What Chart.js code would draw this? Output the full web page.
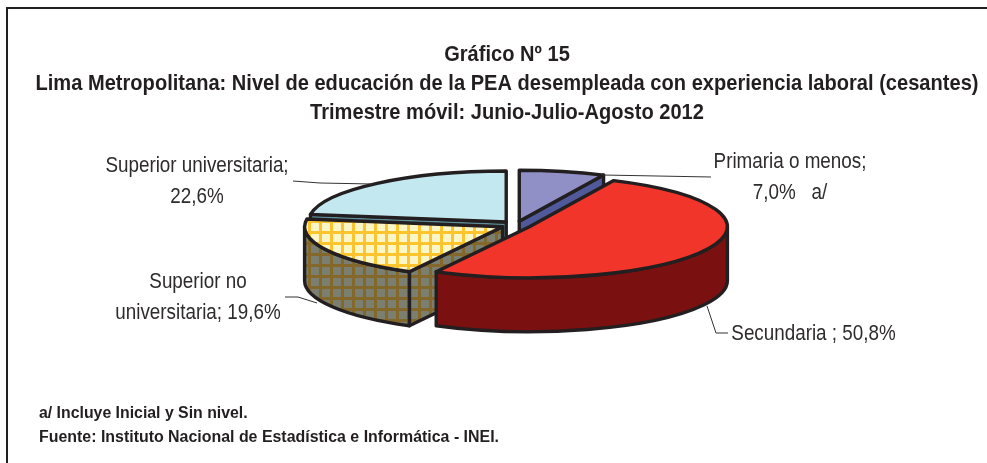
<!DOCTYPE html>
<html><head><meta charset="utf-8">
<style>html,body{margin:0;padding:0;background:#fff}#w{position:relative;width:987px;height:463px}canvas{display:block}</style>
<script src="https://cdn.jsdelivr.net/npm/chart.js@4"></script></head>
<body><div id="w"><canvas id="c" width="987" height="463"></canvas></div>
<script>
const titleLines = ["Gráfico Nº 15","Lima Metropolitana: Nivel de educación de la PEA desempleada con experiencia laboral (cesantes)","Trimestre móvil: Junio-Julio-Agosto 2012"];
const categories = ["Primaria o menos","Secundaria","Superior no universitaria","Superior universitaria"];
const values = [7.0,50.8,19.6,22.6];
const explode = [60,60,60,60];
const topColors = ["#9090c6","#f1352b",["#fbf6c8","#fdc42d"],"#c3e8f0"];
const wallColors = ["#505a9b","#7a1010",["#7a7f70","#84672a"],"#5f8f9a"];
const drawOrder = [3,0,2,1];
const footnotes = ["a/ Incluye Inicial y Sin nivel.","Fuente: Instituto Nacional de Estadística e Informática - INEI."];
const sliceTexts = [
 {lines:["Primaria o menos;","7,0%   a/"],x:790,y:[168,199]},
 {lines:["Secundaria ; 50,8%"],x:813.5,y:[340]},
 {lines:["Superior no","universitaria; 19,6%"],x:198,y:[288,319]},
 {lines:["Superior universitaria;","22,6%"],x:197,y:[172,203]}
];
const leaders = [
 [[603,175],[711,177]],
 [[707,306],[716,333],[728,333]],
 [[285,297],[298,297],[317,303]],
 [[293,181],[320,183],[372,184]]
];
const FONT='"Liberation Sans",Arial,sans-serif';
const INK='#231f20', TILT=51/198, DEPTH=54;

function hatch(c){
  if(!Array.isArray(c)) return c;
  const p=document.createElement('canvas');p.width=11;p.height=11;
  const g=p.getContext('2d');g.fillStyle=c[0];g.fillRect(0,0,11,11);
  g.fillStyle=c[1];g.fillRect(0,0,3,11);g.fillRect(0,0,11,3);
  return document.getElementById('c').getContext('2d').createPattern(p,'repeat');
}
const topFill=topColors.map(hatch), wallFill=wallColors.map(hatch);

function squeezed(ctx,t,x,y,sx){ctx.save();ctx.translate(x,y);ctx.scale(sx,1);ctx.fillText(t,0,0);ctx.restore();}

const pie3d={id:'pie3d',
 beforeDatasetsDraw(chart){
  const ctx=chart.ctx, arcs=chart.getDatasetMeta(0).data;
  ctx.save();ctx.lineJoin='round';ctx.lineWidth=3.4;ctx.strokeStyle=INK;
  drawOrder.forEach(i=>{
   const a=arcs[i].getProps(['x','y','startAngle','endAngle','outerRadius'],true);
   const off=(arcs[i].options.offset||0)/4, mid=(a.startAngle+a.endAngle)/2;
   const R=a.outerRadius,b=R*TILT;
   const cx=a.x+Math.cos(mid)*off, cy=a.y+Math.sin(mid)*off*TILT;
   const pt=t=>[cx+R*Math.cos(t),cy+b*Math.sin(t)];
   const face=t=>{const p=pt(t);ctx.beginPath();ctx.moveTo(cx,cy);ctx.lineTo(p[0],p[1]);ctx.lineTo(p[0],p[1]+DEPTH);ctx.lineTo(cx,cy+DEPTH);ctx.closePath();ctx.fillStyle=wallFill[i];ctx.fill();ctx.stroke();};
   if(Math.cos(a.startAngle)<-1e-6) face(a.startAngle);
   if(Math.cos(a.endAngle)>1e-6) face(a.endAngle);
   const w0=Math.max(a.startAngle,0), w1=Math.min(a.endAngle,Math.PI);
   if(w1>w0){
    const p=pt(w0);ctx.beginPath();ctx.moveTo(p[0],p[1]);
    ctx.ellipse(cx,cy,R,b,0,w0,w1);ctx.ellipse(cx,cy+DEPTH,R,b,0,w1,w0,true);ctx.closePath();
    ctx.fillStyle=wallFill[i];ctx.fill();ctx.stroke();
   }
   ctx.beginPath();ctx.moveTo(cx,cy);ctx.ellipse(cx,cy,R,b,0,a.startAngle,a.endAngle);ctx.closePath();
   ctx.fillStyle=arcs[i].options.backgroundColor;ctx.fill();ctx.stroke();
  });
  ctx.restore();
  return false;
 },
 afterDraw(chart){
  const ctx=chart.ctx;ctx.save();
  ctx.strokeStyle=INK;ctx.lineWidth=2;ctx.beginPath();ctx.moveTo(987,8);ctx.lineTo(7,8);ctx.lineTo(7,463);ctx.stroke();
  ctx.strokeStyle='#333';ctx.lineWidth=1;
  leaders.forEach(l=>{ctx.beginPath();l.forEach((p,k)=>k?ctx.lineTo(p[0],p[1]):ctx.moveTo(p[0],p[1]));ctx.stroke();});
  ctx.textBaseline='alphabetic';ctx.textAlign='center';
  ctx.fillStyle=INK;ctx.font='bold 21.5px '+FONT;
  [61,90,118.5].forEach((y,k)=>squeezed(ctx,titleLines[k],507,y,0.934));
  ctx.fillStyle='#2e2b2c';ctx.font='22px '+FONT;
  sliceTexts.forEach(s=>s.lines.forEach((t,k)=>squeezed(ctx,t,s.x,s.y[k],0.856)));
  ctx.textAlign='left';ctx.fillStyle=INK;ctx.font='bold 16px '+FONT;
  squeezed(ctx,footnotes[0],39,418,0.99);squeezed(ctx,footnotes[1],39,442,0.995);
  ctx.restore();
 }
};

new Chart(document.getElementById('c'),{
 type:'pie',
 data:{labels:categories,datasets:[{data:values,backgroundColor:topFill,borderWidth:0,offset:explode,radius:198}]},
 options:{responsive:false,animation:false,events:[],
  layout:{padding:{left:45,right:0,top:0,bottom:13}},
  plugins:{legend:{display:false},tooltip:{enabled:false},title:{display:false}}},
 plugins:[pie3d]
});
</script></body></html>
